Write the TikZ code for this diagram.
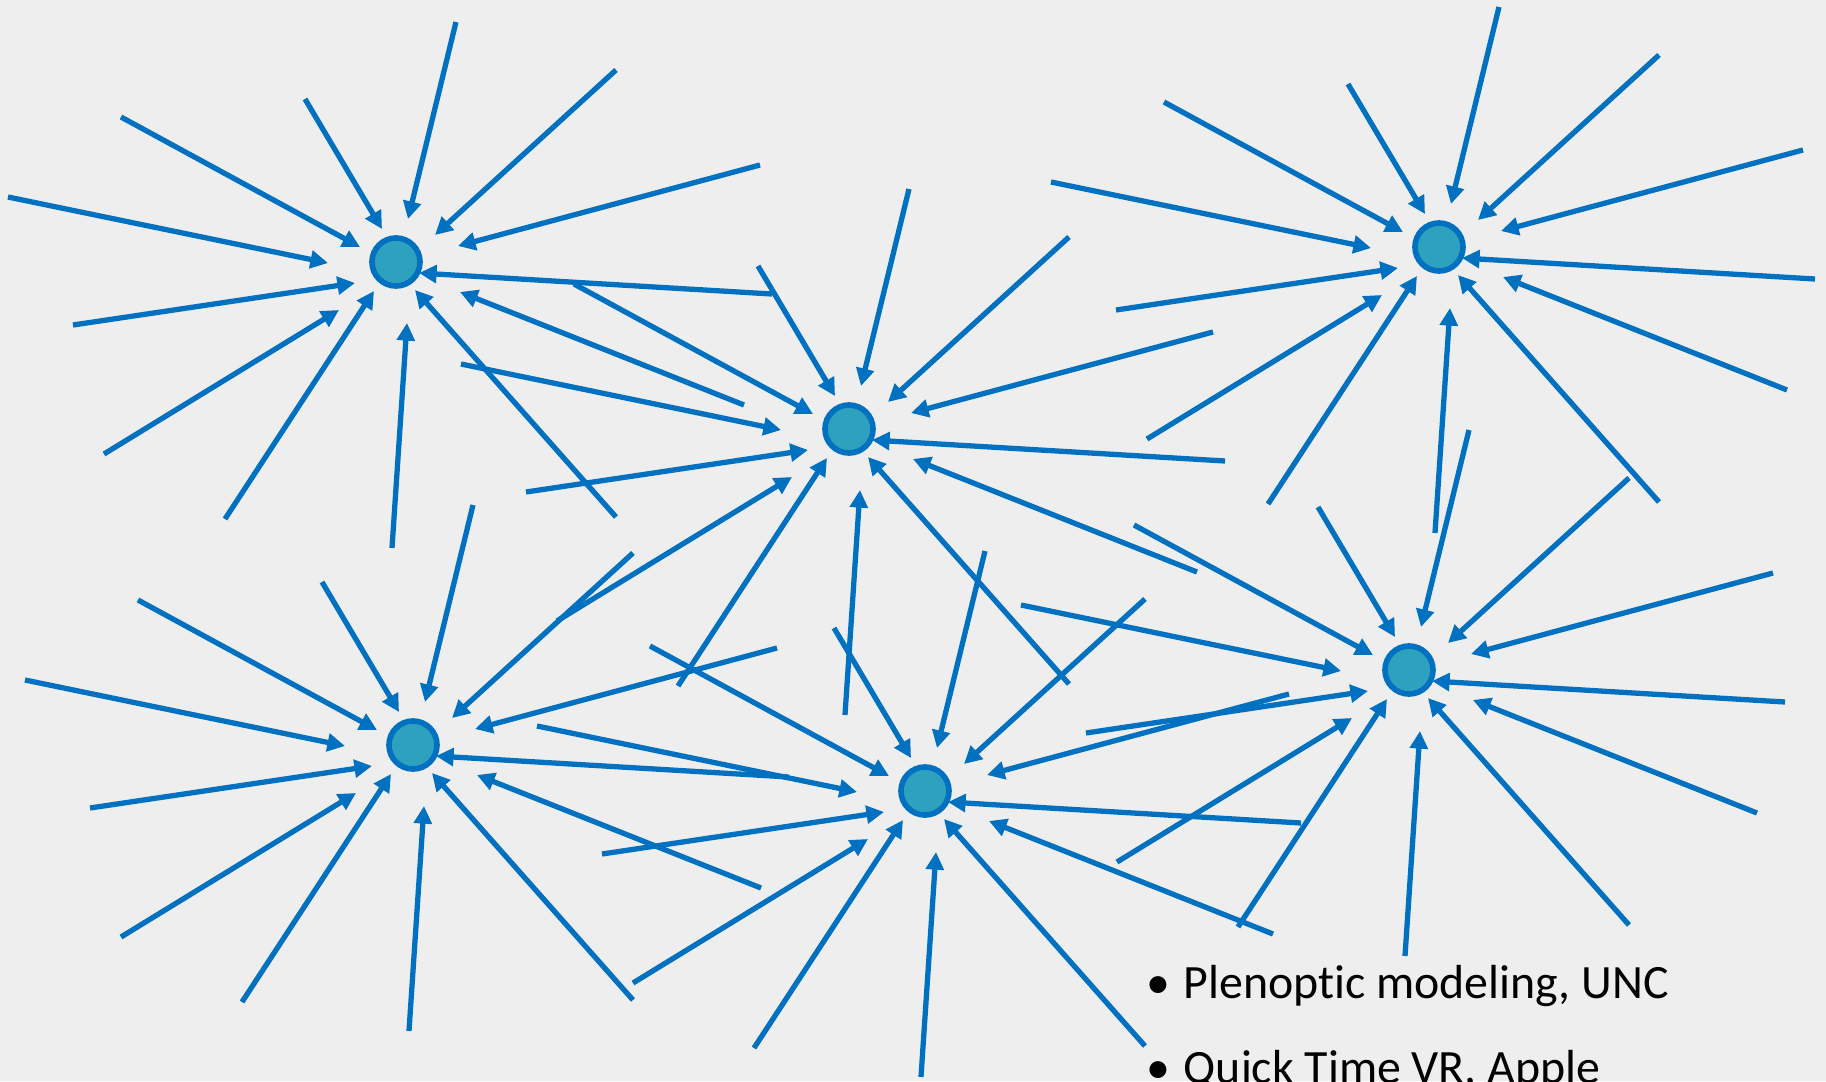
\documentclass[tikz,border=0pt]{standalone}
\usepackage{fontspec}
\setmainfont{Carlito}[Ligatures=NoCommon]
\usepackage{tikz}
\usetikzlibrary{arrows.meta,calc}
\definecolor{PageGray}{RGB}{238,238,238}
\definecolor{RayBlue}{RGB}{0,112,192}
\definecolor{HubTeal}{RGB}{46,161,191}

\begin{document}
\begin{tikzpicture}[x=0.01cm,y=-0.01cm,
    hub/.style={circle,draw=RayBlue,fill=HubTeal,line width=1.6pt,
                inner sep=0pt,minimum size=0.48cm},
    ray/.style={-{Triangle[length=5pt,width=5pt]},line width=1.5pt,RayBlue},
    item/.style={anchor=base west,inner sep=0pt,font=\fontsize{13.6pt}{16pt}\selectfont}]

    \fill[PageGray] (0,0) rectangle (1826,1081);
    \useasboundingbox (0,0) rectangle (1826,1081);
    \clip (0,0) rectangle (1826,1081);

    % the six camera positions
    \node[hub] (n1) at (396,262) {};
    \node[hub] (n2) at (849,429) {};
    \node[hub] (n3) at (1439,247) {};
    \node[hub] (n4) at (413,745) {};
    \node[hub] (n5) at (925,791) {};
    \node[hub] (n6) at (1409,670) {};

    % same bundle of incoming rays at every position
    \foreach \n in {n1,n2,n3,n4,n5,n6} {
      \foreach \sx/\sy/\tx/\ty in {-388/-65/-68/1, -275/-145/-36/-15,
          -91/-163/-14/-33, 60/-240/12/-43, 220/-192/39/-27,
          364/-97/62/-16, 376/32/23/11, 348/143/64/30,
          220/255/19/28, -4/286/11/61, -171/257/-22/29,
          -292/192/-57/48, -323/63/-41/21}
        \draw[ray] ($(\n)+(\sx,\sy)$) -- ($(\n)+(\tx,\ty)$);
    }

    \node[item] (plen) at (1146,998)
      {\makebox[0.37cm][l]{\textbullet}Plenoptic modeling, UNC};
    \node[item] (qtvr) at (1146,1083)
      {\makebox[0.37cm][l]{\textbullet}Quick Time VR, Apple};
  \end{tikzpicture}
\end{document}
